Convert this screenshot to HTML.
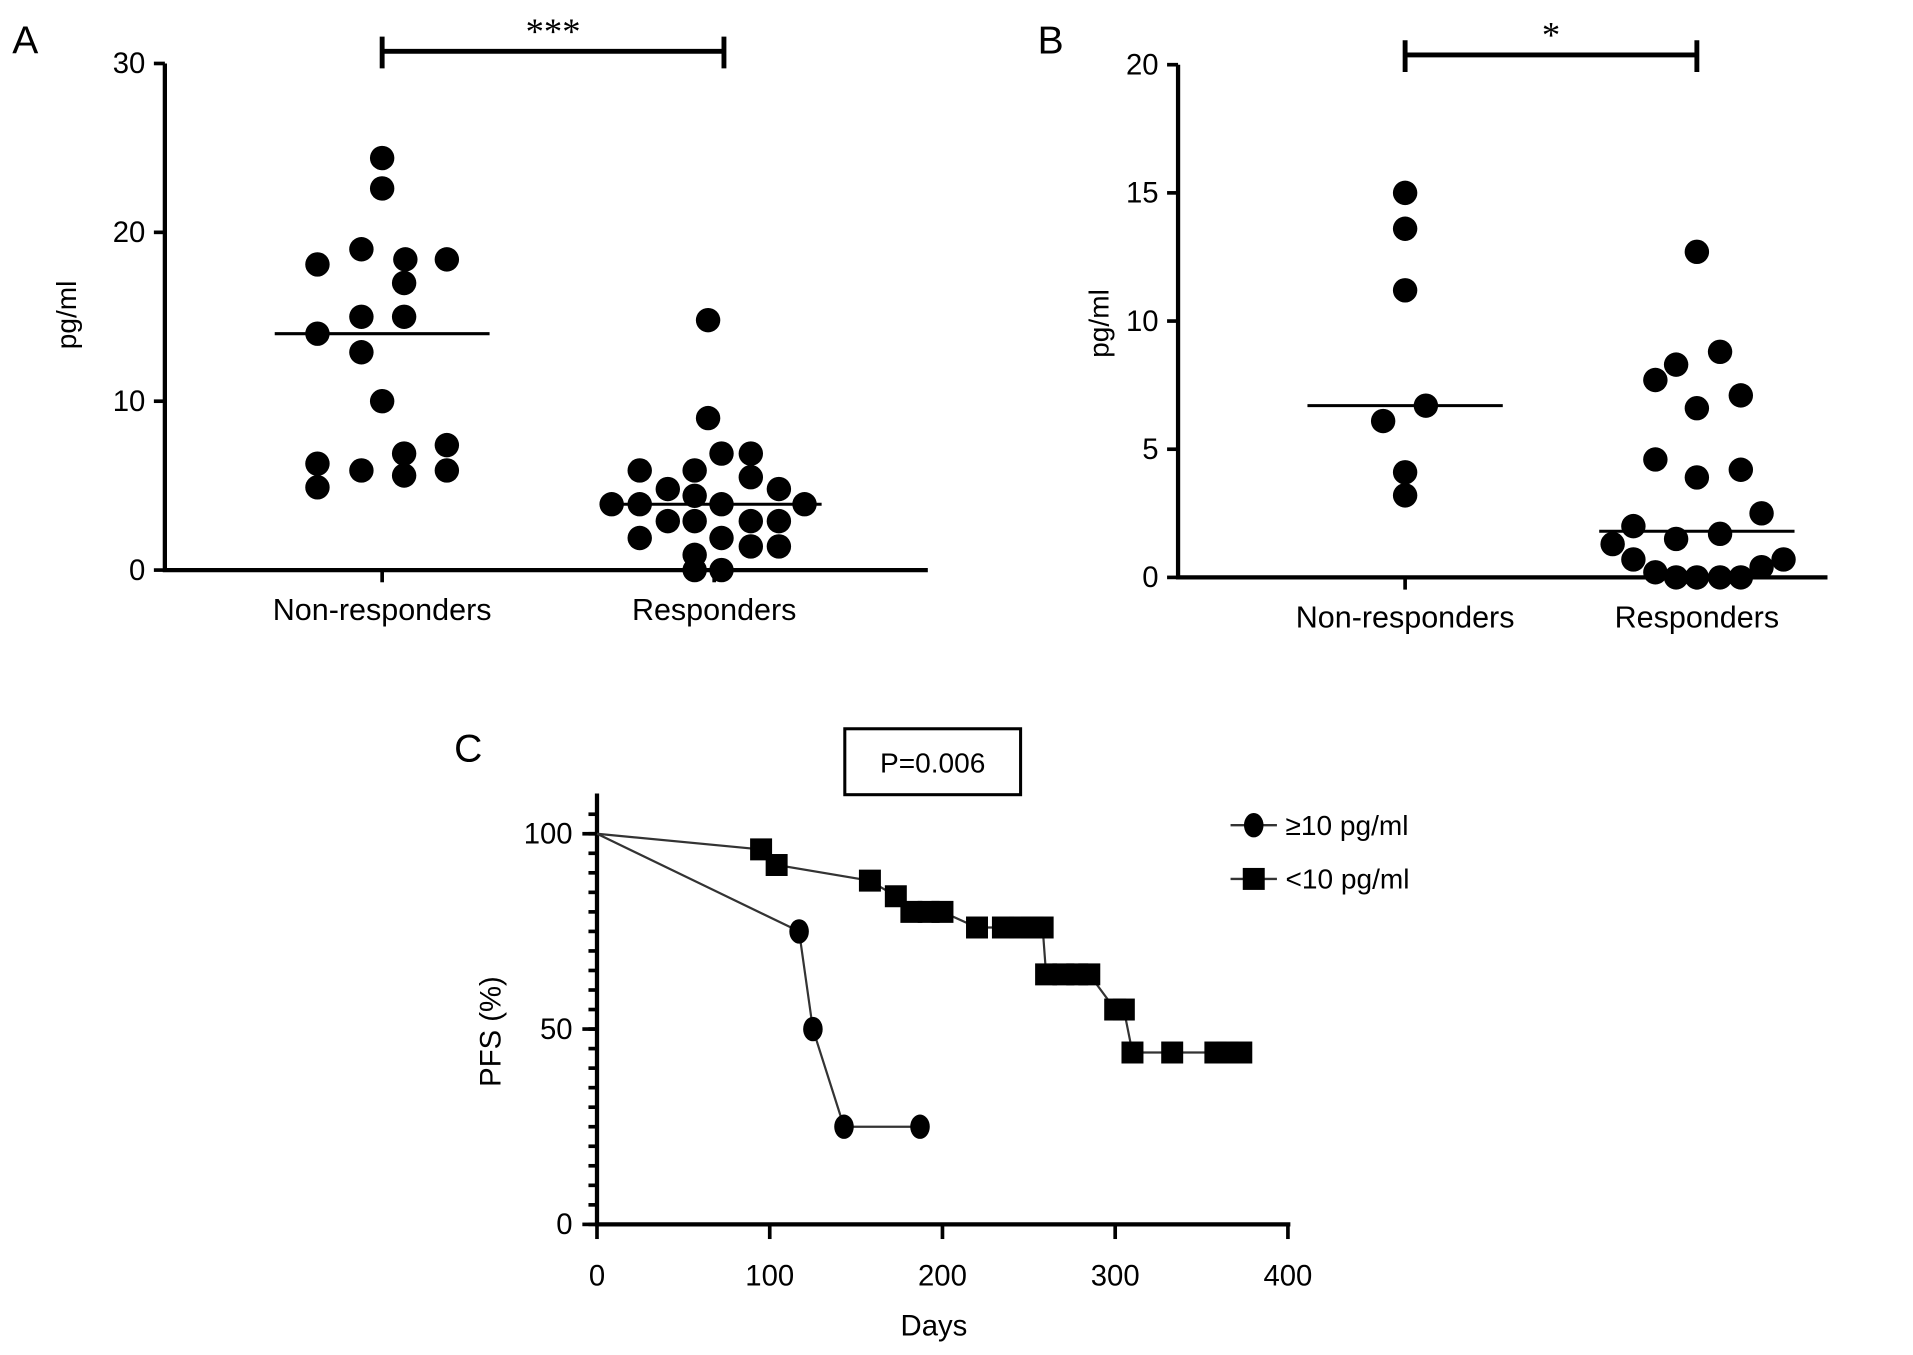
<!DOCTYPE html>
<html><head><meta charset="utf-8"><style>
html,body{margin:0;padding:0;background:#fff;}
svg{display:block;font-family:"Liberation Sans",Arial,sans-serif;}
</style></head><body>
<svg id="fig" width="1913" height="1355" viewBox="0 0 1567 1110"></svg>
<script>
// Panel A data
const aCats = ["Non-responders","Responders"];
const aNR = [24.4,22.6,18.1,19.0,18.4,18.4,17.0,15.0,15.0,14.0,12.9,10.0,7.4,6.9,6.3,5.9,5.6,5.9,4.9];
const aNRoff = [0,0,-53,-17,19,53,18,-17,18,-53,-17,0,53,18,-53,-17,18,53,-53];
const aR = [14.8,9.0,5.9,5.9,6.9,6.9,4.8,5.5,4.8,3.9,3.9,4.4,3.9,3.9,2.9,2.9,2.9,2.9,1.9,1.9,1.4,1.4,0.9,0,0];
const aRoff = [-5,-5,-61,-16,6,30,-38,30,53,-84,-61,-16,6,74,-38,-16,30,53,-61,6,30,53,-16,-16,6];
const aMedians = [14.0,3.9];
const aTicks = [0,10,20,30];
// Panel B data
const bCats = ["Non-responders","Responders"];
const bNR = [15.0,13.6,11.2,6.7,6.1,4.1,3.2];
const bNRoff = [0,0,0,17,-18,0,0];
const bR = [12.7,8.8,8.3,7.7,7.1,6.6,4.6,3.9,4.2,2.5,2.0,1.3,1.5,1.7,0.7,0.7,0.2,0,0,0,0,0.4];
const bRoff = [0,19,-17,-34,36,0,-34,0,36,53,-52,-69,-17,19,-52,71,-34,-17,0,19,36,53];
const bMedians = [6.7,1.8];
const bTicks = [0,5,10,15,20];
// Panel C data
const cHighDays = [0,117,125,143,187];
const cHighPFS = [100,75,50,25,25];
const cLowDays = [0,95,104,158,173,182,192,200,220,235,245,252,258,260,270,278,285,300,305,310,333,358,365,373];
const cLowPFS = [100,96,92,88,84,80,80,80,76,76,76,76,76,64,64,64,64,55,55,44,44,44,44,44];
const cXTicks = [0,100,200,300,400];
const cYTicks = [0,50,100];

const NS="http://www.w3.org/2000/svg";
const svg=document.getElementById('fig');
function el(tag,attrs,parent){const e=document.createElementNS(NS,tag);for(const k in attrs)e.setAttribute(k,attrs[k]);(parent||svg).appendChild(e);return e;}
function txt(x,y,s,size,anchor,parent,extra){const t=el('text',Object.assign({x:x,y:y,'font-size':size,'text-anchor':anchor||'middle',fill:'#000'},extra||{}),parent);t.textContent=s;return t;}

function scatterPanel(cfg){
  const g=el('g',{});
  
  
  const y=v=>cfg.y0-(v/cfg.ymax)*(cfg.y0-cfg.y1);
  const ax=el('path',{d:`M${cfg.x0},${cfg.y1}V${cfg.y0}H${cfg.x1}`,stroke:'#000','stroke-width':3.5,fill:'none'},g);
  
  
  cfg.ticks.forEach(t=>{
    el('line',{x1:cfg.x0-9,x2:cfg.x0,y1:y(t),y2:y(t),stroke:'#000','stroke-width':3},g);
    const l=txt(cfg.x0-16,y(t)+8,String(t),24,'end',g);
    
    
  });
  cfg.cats.forEach((c,i)=>{
    const cx=cfg.cx[i];
    el('line',{x1:cx,x2:cx,y1:cfg.y0,y2:cfg.y0+10,stroke:'#000','stroke-width':3},g);
    const l=txt(cx,cfg.y0+41,c,25,'middle',g);
    
    
    const vals=cfg.vals[i],offs=cfg.offs[i];
    vals.forEach((v,j)=>{
      const d=el('circle',{cx:cx+offs[j],cy:y(v),r:10,fill:'#000'},g);
      
      
    });
    const m=el('line',{x1:cx-cfg.mw,x2:cx+cfg.mw,y1:y(cfg.med[i]),y2:y(cfg.med[i]),stroke:'#000','stroke-width':2.5},g);
    
    
  });
  const yl=txt(0,0,'pg/ml',23,'middle',g,{transform:`translate(${cfg.ylx},${cfg.yly}) rotate(-90)`});
  
  
  const sx0=cfg.cx[0], sx1=cfg.sx1;
  const s=el('path',{d:`M${sx0},${cfg.sy-12}V${cfg.sy+14}M${sx0},${cfg.sy}H${sx1}M${sx1},${cfg.sy-12}V${cfg.sy+14}`,stroke:'#000','stroke-width':4,fill:'none'},g);
  
  
  const st=txt((sx0+sx1)/2,cfg.sy-6,cfg.stars,30,'middle',g,{'font-family':'Liberation Serif, serif'});
  
  
  const pl=txt(cfg.lx,cfg.ly,cfg.letter,32,'start',g);
  
  
}
scatterPanel({name:'panel-a',x0:135,x1:760,y0:467,y1:52,ymax:30,ticks:aTicks,cats:aCats,cx:[313,585],sx1:593,vals:[aNR,aR],offs:[aNRoff,aRoff],med:aMedians,mw:88,ylx:62,yly:258,sy:42,stars:'***',letter:'A',lx:10,ly:44});
scatterPanel({name:'panel-b',x0:965,x1:1497,y0:473,y1:53,ymax:20,ticks:bTicks,cats:bCats,cx:[1151,1390],sx1:1390,vals:[bNR,bR],offs:[bNRoff,bRoff],med:bMedians,mw:80,ylx:908,yly:265,sy:45,stars:'*',letter:'B',lx:850,ly:44});

// Panel C
(function(){
  const g=el('g',{});
  
  
  const X0=489,XS=(1055-489)/400,Y0=1003,YS=(1003-683)/100;
  const x=d=>X0+d*XS, y=p=>Y0-p*YS;
  const ax=el('path',{d:`M${X0},650V${Y0}H1057`,stroke:'#000','stroke-width':3.5,fill:'none'},g);
  
  
  for(let p=0;p<=105;p+=5){el('line',{x1:X0-7,x2:X0,y1:y(p),y2:y(p),stroke:'#000','stroke-width':3},g);}
  cYTicks.forEach(t=>{
    el('line',{x1:X0-12,x2:X0,y1:y(t),y2:y(t),stroke:'#000','stroke-width':3},g);
    const l=txt(X0-20,y(t)+8,String(t),24,'end',g);
    
    
  });
  cXTicks.forEach(t=>{
    el('line',{x1:x(t),x2:x(t),y1:Y0,y2:Y0+12,stroke:'#000','stroke-width':3},g);
    const l=txt(x(t),Y0+50,String(t),24,'middle',g);
    
    
  });
  const xt=txt(765,1094,'Days',24,'middle',g);
  
  
  const yt=txt(0,0,'PFS (%)',24,'middle',g,{transform:'translate(410,845) rotate(-90)'});
  
  
  function series(days,pfs,shape,name){
    const pl=el('polyline',{points:days.map((d,i)=>x(d)+','+y(pfs[i])).join(' '),fill:'none',stroke:'#333','stroke-width':1.8},g);
    
    
    days.forEach((d,i)=>{
      if(i===0)return;
      let m;
      if(shape==='circle') m=el('ellipse',{cx:x(d),cy:y(pfs[i]),rx:8,ry:10,fill:'#000'},g);
      else m=el('rect',{x:x(d)-9,y:y(pfs[i])-9,width:18,height:18,fill:'#000'},g);
      
      
    });
  }
  series(cHighDays,cHighPFS,'circle','high-group');
  series(cLowDays,cLowPFS,'square','low-group');
  const lg=el('g',{},g);
  
  
  el('line',{x1:1008,x2:1046,y1:676,y2:676,stroke:'#333','stroke-width':2},lg);
  el('ellipse',{cx:1027,cy:676,rx:8,ry:10,fill:'#000'},lg);
  txt(1053,684,'≥10 pg/ml',23,'start',lg);
  el('line',{x1:1008,x2:1046,y1:720,y2:720,stroke:'#333','stroke-width':2},lg);
  el('rect',{x:1018,y:711,width:18,height:18,fill:'#000'},lg);
  txt(1053,728,'<10 pg/ml',23,'start',lg);
  const pb=el('rect',{x:692,y:597,width:144,height:54,fill:'#fff',stroke:'#000','stroke-width':2.5},g);
  
  
  const pt=txt(764,633,'P=0.006',23,'middle',g);
  
  
  const cl=txt(372,624,'C',32,'start',g);
  
  
})();
</script>
</body></html>
